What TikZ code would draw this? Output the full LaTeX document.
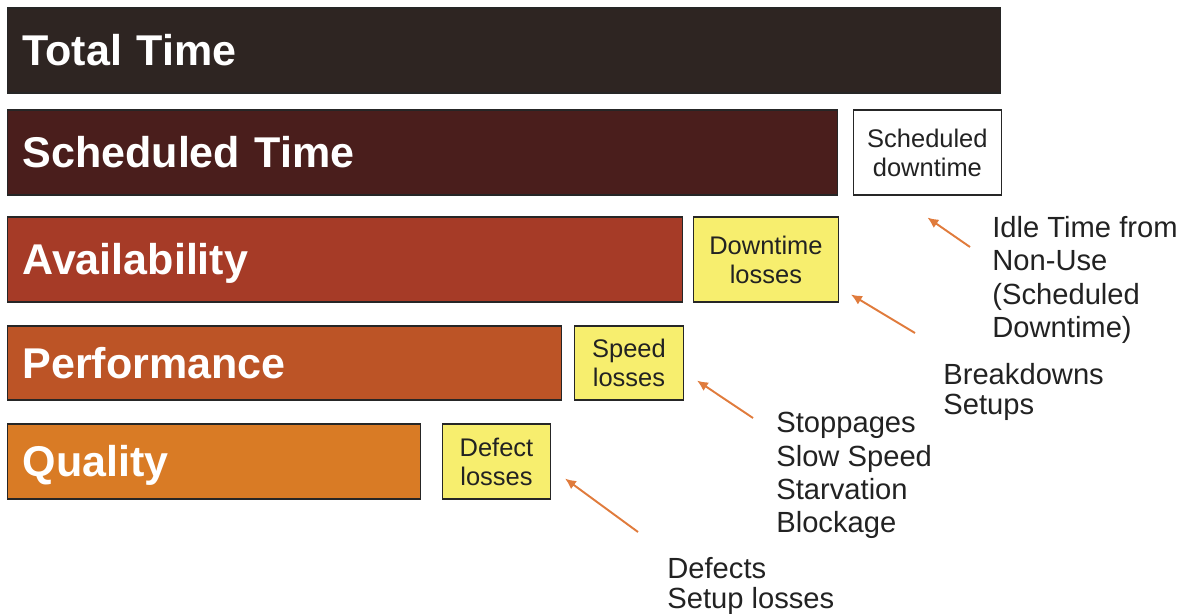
\documentclass[tikz,border=0pt]{standalone}
\usepackage{fontspec}
\setmainfont{Liberation Sans}
\usepackage{tikz}
\usepackage{xcolor}
\usetikzlibrary{shapes,arrows,arrows.meta,positioning,calc}

\definecolor{totalcol}{HTML}{2E2522}
\definecolor{schedcol}{HTML}{4A1E1C}
\definecolor{availcol}{HTML}{A63B27}
\definecolor{perfcol}{HTML}{BC5426}
\definecolor{qualcol}{HTML}{D97B25}
\definecolor{losscol}{HTML}{F7EE6E}
\definecolor{arrowcol}{HTML}{E07B3C}
\definecolor{inkcol}{HTML}{222222}

\tikzset{
    bar/.style={draw=black!85, line width=0.6pt, fill=#1, text=white,
        font=\fontsize{24.5}{26}\selectfont\bfseries, anchor=west, align=left,
        inner xsep=0.3cm, inner ysep=0, text height=17.5pt, text depth=0pt,
        minimum height=1.7cm},
    lossbox/.style={draw=black!85, line width=0.6pt, fill=#1, text=inkcol,
        font=\fontsize{14.5}{16.5}\selectfont, align=center, inner sep=0,
        minimum height=1.7cm},
    note/.style={anchor=north west, align=left, inner sep=0, text=inkcol,
        font=\fontsize{16.6}{19}\selectfont},
    tightnote/.style={note, font=\fontsize{16.6}{17}\selectfont},
    losslink/.style={arrowcol, line width=1.1pt, -{Latex[length=2.2mm, width=2mm]}}
}

\begin{document}
\begin{tikzpicture}[x=0.02cm, y=-0.02cm]
        \useasboundingbox (0,0) rectangle (1188,613);

        % bars
        \node[bar=totalcol, text width=19.26cm] (total) at (7,50.5) {Total Time};
        \node[bar=schedcol, text width=16.0cm] (sched) at (7,152.5) {Scheduled Time};
        \node[bar=availcol, text width=12.9cm] (avail) at (7,259.5) {Availability};
        \node[bar=perfcol, text width=10.48cm, minimum height=1.48cm] (perf) at (7,363) {Performance};
        \node[bar=qualcol, text width=7.66cm, minimum height=1.5cm] (qual) at (7,461.5) {Quality};

        % loss boxes
        \node[lossbox=white, minimum width=2.96cm, right=0.3cm of sched] (sdown) {Scheduled\\downtime};
        \node[lossbox=losscol, minimum width=2.9cm, right=0.2cm of avail] (dloss) {Downtime\\losses};
        \node[lossbox=losscol, minimum width=2.18cm, minimum height=1.48cm, right=0.24cm of perf] (sloss) {Speed\\losses};
        \node[lossbox=losscol, minimum width=2.16cm, minimum height=1.5cm, right=0.42cm of qual] (qloss) {Defect\\losses};

        % causes
        \node[note] (idle) at (992,216) {Idle Time from\\Non-Use\\(Scheduled\\Downtime)};
        \node[tightnote] (brk) at (943,363) {Breakdowns\\Setups};
        \node[note] (stop) at (776,412) {Stoppages\\Slow Speed\\Starvation\\Blockage};
        \node[tightnote] (dfct) at (667,557) {Defects\\Setup losses};

        \draw[losslink] ([shift={(-22,31)}]idle.north west) -- ([shift={(0,22)}]sdown.south);
        \draw[losslink] ([shift={(-28,-30)}]brk.north west) -- ([shift={(12,-8)}]dloss.south east);
        \draw[losslink] ([shift={(-23,6)}]stop.north west) -- ([shift={(13,-20)}]sloss.south east);
        \draw[losslink] ([shift={(-29,-25)}]dfct.north west) -- ([shift={(14,-21)}]qloss.south east);
    \end{tikzpicture}
\end{document}
